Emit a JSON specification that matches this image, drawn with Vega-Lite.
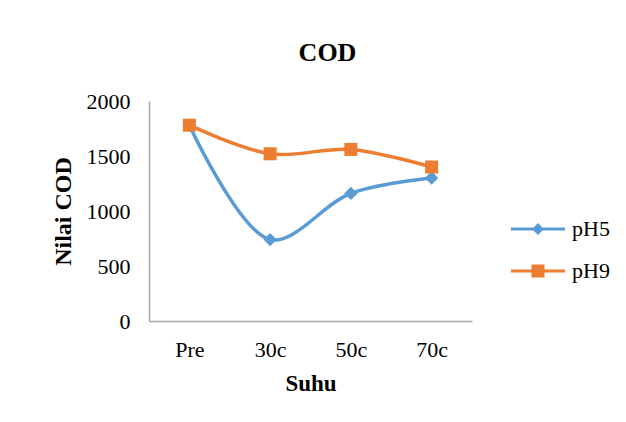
{
  "$schema": "https://vega.github.io/schema/vega-lite/v6.json",
  "width": 323,
  "height": 220,
  "autosize": {"type": "none"},
  "padding": {"left": 149, "top": 101, "right": 154, "bottom": 101},
  "background": "white",
  "config": {"view": {"stroke": null}, "font": "Liberation Serif"},
  "title": {"text": "COD", "font": "Liberation Serif", "fontSize": 26, "fontWeight": "bold", "color": "black", "anchor": "middle", "frame": "group", "dx": 17, "offset": 24},
  "data": {"values": [
    {"suhu": "Pre", "series": "pH5", "cod": 1780},
    {"suhu": "30c", "series": "pH5", "cod": 740},
    {"suhu": "50c", "series": "pH5", "cod": 1160},
    {"suhu": "70c", "series": "pH5", "cod": 1300},
    {"suhu": "Pre", "series": "pH9", "cod": 1780},
    {"suhu": "30c", "series": "pH9", "cod": 1520},
    {"suhu": "50c", "series": "pH9", "cod": 1560},
    {"suhu": "70c", "series": "pH9", "cod": 1400}
  ]},
  "encoding": {
    "x": {"field": "suhu", "type": "ordinal", "sort": ["Pre", "30c", "50c", "70c"],
      "axis": {"title": "Suhu", "labelAngle": 0, "ticks": false, "domainColor": "#a6a6a6", "domainWidth": 1.5, "labelFont": "Liberation Serif", "labelFontSize": 22, "labelColor": "black", "labelPadding": 18, "titleFont": "Liberation Serif", "titleFontSize": 23, "titleFontWeight": "bold", "titleColor": "black", "titlePadding": 12}},
    "y": {"field": "cod", "type": "quantitative", "scale": {"domain": [0, 2000]},
      "axis": {"title": "Nilai COD", "format": "d", "values": [0, 500, 1000, 1500, 2000], "grid": false, "ticks": false, "domainColor": "#a6a6a6", "domainWidth": 1.5, "labelFont": "Liberation Serif", "labelFontSize": 22, "labelColor": "black", "labelPadding": 19, "titleFont": "Liberation Serif", "titleFontSize": 24, "titleFontWeight": "bold", "titleColor": "black", "titlePadding": 11}}
  },
  "resolve": {"legend": {"color": "independent", "shape": "independent"}},
  "layer": [
    {
      "mark": {"type": "line", "interpolate": "catmull-rom", "strokeWidth": 3.5},
      "encoding": {
        "color": {"field": "series", "type": "nominal",
          "scale": {"domain": ["pH5", "pH9"], "range": ["#5B9BD5", "#ED7D31"]},
          "legend": null}
      }
    },
    {
      "mark": {"type": "point", "filled": true, "opacity": 1},
      "encoding": {
        "color": {"field": "series", "type": "nominal", "legend": null},
        "shape": {"condition": {"test": "datum.series === 'pH5'", "value": "diamond"}, "value": "square"},
        "size": {"condition": {"test": "datum.series === 'pH5'", "value": 180}, "value": 170}
      }
    },
    {
      "mark": {"type": "point", "filled": true, "opacity": 0},
      "encoding": {
        "color": {"field": "series", "type": "nominal",
          "legend": {"title": null, "orient": "none", "legendX": 378, "legendY": 117, "symbolSize": 400, "symbolOpacity": 1, "symbolStrokeWidth": 0, "labelFont": "Liberation Serif", "labelFontSize": 22, "labelColor": "black", "rowPadding": 20, "labelOffset": 23}},
        "shape": {"field": "series", "type": "nominal",
          "scale": {"domain": ["pH5", "pH9"], "range": ["M-2.7,-0.16H2.7V0.16H-2.7Z M0,-0.6L0.6,0L0,0.6L-0.6,0Z", "M-2.7,-0.16H2.7V0.16H-2.7Z M-0.65,-0.65H0.65V0.65H-0.65Z"]},
          "legend": {"title": null, "orient": "none", "legendX": 378, "legendY": 117, "symbolSize": 400, "symbolOpacity": 1, "symbolStrokeWidth": 0, "labelFont": "Liberation Serif", "labelFontSize": 22, "labelColor": "black", "rowPadding": 20, "labelOffset": 23}}
      }
    }
  ]
}
